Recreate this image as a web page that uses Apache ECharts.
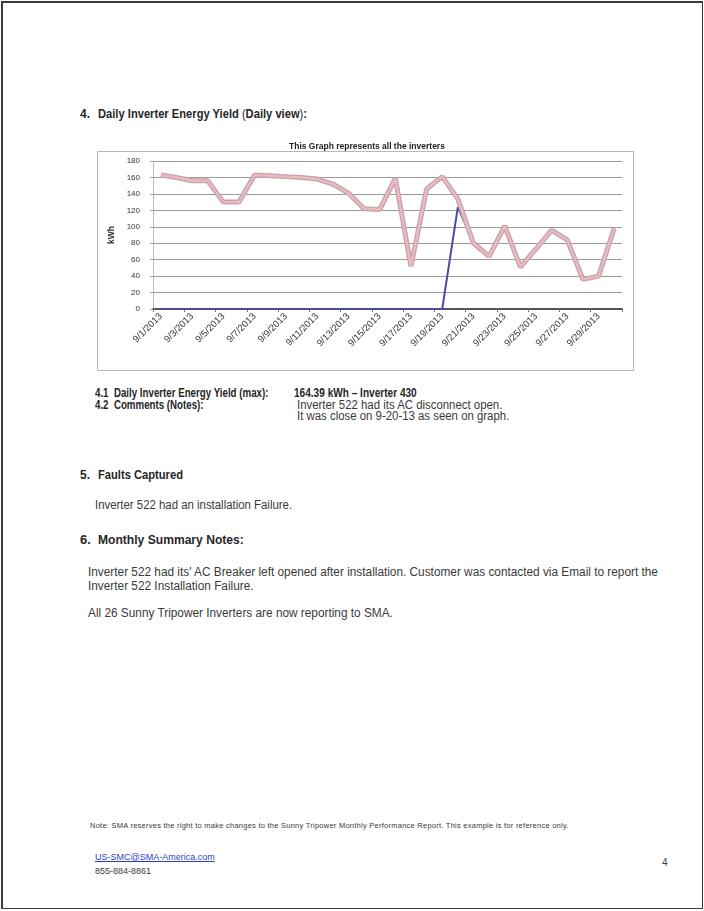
<!DOCTYPE html>
<html><head><meta charset="utf-8">
<script src="https://cdn.jsdelivr.net/npm/echarts@6/dist/echarts.min.js"></script>
<style>
html,body{margin:0;padding:0;background:#fff;}
#page{position:relative;width:704px;height:911px;overflow:hidden;background:#fff;font-family:"Liberation Sans",Arial,sans-serif;color:#3a3a3a;}
#frame{position:absolute;left:1px;top:1px;width:699px;height:905px;border:2px solid #3a3a3a;border-right-width:1px;border-bottom-width:1px;}
.t{position:absolute;white-space:nowrap;line-height:1;transform-origin:0 50%;}
.b{font-weight:bold;color:#262626;}
#chart{position:absolute;left:88px;top:134px;width:550px;height:240px;}
a{color:#2b3fc4;text-decoration:underline;}
</style></head>
<body><div id="page">
<div id="frame"></div>
<div class="t b" style="left:80px;top:108px;font-size:12px;">4.</div>
<div class="t b" style="left:98px;top:108px;font-size:12px;transform:scaleX(0.93);">Daily Inverter Energy Yield <span style="font-weight:normal">(</span>Daily view<span style="font-weight:normal">)</span>:</div>
<div id="chart"></div>
<div class="t b" style="left:95px;top:387px;font-size:12px;transform:scaleX(0.81);">4.1&nbsp; Daily Inverter Energy Yield (max):</div>
<div class="t b" style="left:294px;top:387px;font-size:12px;transform:scaleX(0.84);">164.39 kWh – Inverter 430</div>
<div class="t b" style="left:95px;top:399px;font-size:12px;transform:scaleX(0.81);">4.2&nbsp; Comments (Notes):</div>
<div class="t" style="left:297px;top:399px;font-size:12px;transform:scaleX(0.95);">Inverter 522 had its AC disconnect open.</div>
<div class="t" style="left:297px;top:410px;font-size:12px;transform:scaleX(0.95);">It was close on 9-20-13 as seen on graph.</div>
<div class="t b" style="left:80px;top:469px;font-size:12px;">5.</div>
<div class="t b" style="left:98px;top:469px;font-size:12px;transform:scaleX(0.93);">Faults Captured</div>
<div class="t" style="left:95px;top:499px;font-size:12px;transform:scaleX(0.95);">Inverter 522 had an installation Failure.</div>
<div class="t b" style="left:80px;top:533px;font-size:13px;">6.</div>
<div class="t b" style="left:98px;top:533px;font-size:13px;transform:scaleX(0.93);">Monthly Summary Notes:</div>
<div class="t" style="left:88px;top:566px;font-size:12px;transform:scaleX(0.985);">Inverter 522 had its' AC Breaker left opened after installation. Customer was contacted via Email to report the</div>
<div class="t" style="left:88px;top:580px;font-size:12px;transform:scaleX(0.985);">Inverter 522 Installation Failure.</div>
<div class="t" style="left:88px;top:607px;font-size:12px;transform:scaleX(0.985);">All 26 Sunny Tripower Inverters are now reporting to SMA.</div>
<div class="t" style="left:90px;top:822px;font-size:7.5px;letter-spacing:0.25px;">Note: SMA reserves the right to make changes to the Sunny Tripower Monthly Performance Report. This example is for reference only.</div>
<div class="t" style="left:95px;top:853px;font-size:9px;"><a>US-SMC@SMA-America.com</a></div>
<div class="t" style="left:95px;top:867px;font-size:9px;">855-884-8861</div>
<div class="t" style="left:662px;top:858px;font-size:10px;">4</div>
</div>
<script>
// Categories: days of September 2013
var dates = ['9/1/2013','9/2/2013','9/3/2013','9/4/2013','9/5/2013','9/6/2013','9/7/2013','9/8/2013','9/9/2013','9/10/2013',
 '9/11/2013','9/12/2013','9/13/2013','9/14/2013','9/15/2013','9/16/2013','9/17/2013','9/18/2013','9/19/2013','9/20/2013',
 '9/21/2013','9/22/2013','9/23/2013','9/24/2013','9/25/2013','9/26/2013','9/27/2013','9/28/2013','9/29/2013','9/30/2013'];
// Daily yield of all (overlapping) inverters, kWh
var allInverters = [163,160,156,156,130,130,163,162,161,160,
 158,152,141,122,121,159,52,146,161,134,
 80,64,101,51,73,96,84,36,40,98];
// Inverter 522 (AC disconnect open until 9/20)
var inverter522 = [0,0,0,0,0,0,0,0,0,0,
 0,0,0,0,0,0,0,0,0,124,
 80,64,101,51,73,96,84,36,40,98];
var yTicks = {min:0, max:180, interval:20};
var chartTitle = 'This Graph represents all the inverters';
var yName = 'kWh';

var chart = echarts.init(document.getElementById('chart'), null, {renderer:'canvas'});
chart.setOption({
  animation:false,
  backgroundColor:'transparent',
  title:{text:chartTitle, left:196, top:3, textStyle:{fontFamily:'Liberation Sans', fontSize:8.5, fontWeight:'bold', color:'#222'}},
  graphic:[{type:'rect', left:7, top:15, shape:{width:536, height:219}, style:{fill:'none', stroke:'#b8b8b8', lineWidth:1}, silent:true, z:-1}],
  grid:{left:65, top:27, width:469, height:148, containLabel:false},
  xAxis:{type:'category', data:dates, boundaryGap:true,
    axisLine:{lineStyle:{color:'#555', width:2}},
    axisTick:{show:true, length:3, interval:1, lineStyle:{color:'#777'}},
    axisLabel:{interval:1, rotate:45, fontSize:9.5, color:'#333', margin:6, fontFamily:'Liberation Sans'},
    splitLine:{show:false}},
  yAxis:{type:'value', min:yTicks.min, max:yTicks.max, interval:yTicks.interval,
    name:yName, nameLocation:'middle', nameGap:36, nameRotate:90,
    nameTextStyle:{fontSize:8.5, fontWeight:'bold', color:'#333', fontFamily:'Liberation Sans'},
    axisLine:{show:true, lineStyle:{color:'#bbb'}},
    axisTick:{show:true, length:3, lineStyle:{color:'#999'}},
    axisLabel:{fontSize:8, color:'#333', margin:13, fontFamily:'Liberation Sans'},
    splitLine:{lineStyle:{color:'#9a9a9a', width:1}}},
  series:[
    {name:'Inverter 522', type:'line', data:inverter522, symbol:'none', z:2,
     lineStyle:{color:'#4d4aa6', width:2}, itemStyle:{color:'#4d4aa6'}},
    {name:'All inverters (edge)', type:'line', data:allInverters, symbol:'none', z:3,
     lineStyle:{color:'#c4a4aa', width:5}, itemStyle:{color:'#c4a4aa'}},
    {name:'All inverters', type:'line', data:allInverters, symbol:'none', z:4,
     lineStyle:{color:'#ebb9c1', width:2.4}, itemStyle:{color:'#ebb9c1'}}
  ]
});
</script>
</body></html>
